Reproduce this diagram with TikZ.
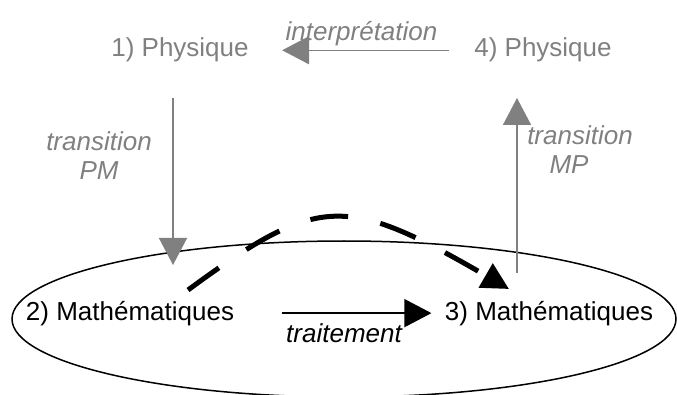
\documentclass[tikz,border=0pt]{standalone}
\usepackage{fontspec}
\setmainfont{Liberation Sans}
\usetikzlibrary{arrows.meta, positioning}
\definecolor{physgray}{RGB}{128,128,128}

\begin{document}
\begin{tikzpicture}[x=1pt,y=-1pt,>={Triangle[length=27pt,width=28pt]},
    phys/.style={text=physgray,font=\fontsize{26}{29}\selectfont,anchor=base},
    math/.style={text=black,font=\fontsize{26}{29}\selectfont,anchor=base},
    lbl/.style={font=\fontsize{26}{29}\selectfont\itshape,align=center},
    garrow/.style={->,draw=physgray,fill=physgray,line width=1.5pt},
    barrow/.style={->,draw=black,line width=1.5pt}]
    \useasboundingbox (0,0) rectangle (677,395);

    % The ellipse round the mathematical side
    \draw[line width=1.5pt] (344,319) ellipse [x radius=332pt, y radius=78pt];

    % Define the four steps
    \node[phys] (p1) at (180,57) {1) Physique};
    \node[phys] (p4) at (543,57) {4) Physique};
    \node[math] (m2) at (130,320) {2) Mathématiques};
    \node[math] (m3) at (549,320) {3) Mathématiques};

    % Free ends of the vertical arrows and of the dashed arc
    \coordinate (pm top) at (173,98);
    \coordinate (pm bot) at (173,265);
    \coordinate (mp bot) at (517,273);
    \coordinate (mp top) at (517,98);
    \coordinate (arc start) at (188,290);
    \coordinate (arc end) at (509,289);

    % Transitions
    \draw[garrow, shorten <=22pt, shorten >=30pt] (p4.west) -- (p1.east)
        node[midway, above=0pt, lbl, text=physgray] (interp) {interprétation};
    \draw[garrow] (pm top) -- (pm bot);
    \draw[garrow] (mp bot) -- (mp top);
    \node[lbl, text=physgray, anchor=base] (tpm) at (99,180) {transition\\PM};
    \node[lbl, text=physgray, anchor=base] (tmp) at (580,174) {transition\\MP\hspace*{22pt}};

    \draw[barrow, shorten <=44pt, shorten >=10pt] (m2.east) -- (m3.west);
    \node[lbl, anchor=base] (trait) at (344,342) {traitement};

    % Dashed shortcut
    \draw[->, >={Triangle[length=27pt,width=27pt]}, line width=5pt,
        dash pattern=on 38pt off 33pt]
        (arc start) .. controls (319,194) and (345,194) .. (arc end);
\end{tikzpicture}
\end{document}
